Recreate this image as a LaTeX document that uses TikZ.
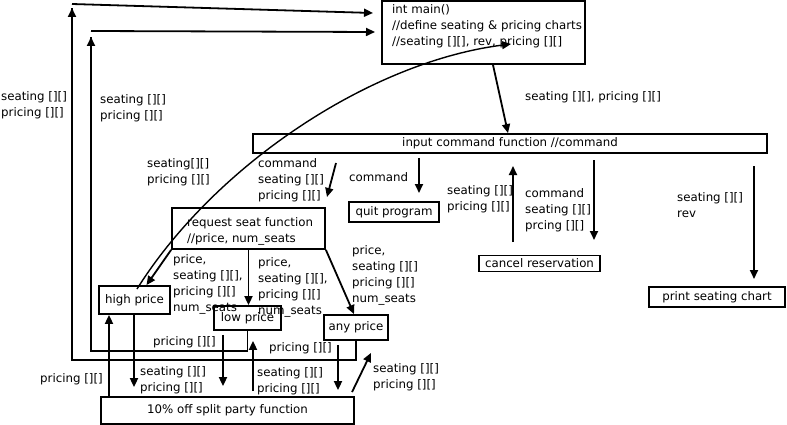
\documentclass[tikz,border=0pt]{standalone}
\usepackage{fontspec}
\setmainfont{DejaVu Sans}
\usetikzlibrary{arrows.meta}
\tikzset{
  every picture/.style={x=1pt,y=-1pt},
  box/.style={draw,line width=1.8pt,inner sep=0pt,font={\fontsize{11.8}{16}\selectfont}},
  lbl/.style={anchor=base west,inner sep=0pt,align=left,font={\fontsize{11.8}{16}\selectfont}},
  arr/.style={line width=1.8pt,-{Triangle[length=9pt,width=8pt]}},
  ln/.style={line width=1.8pt}
}
\begin{document}
\begin{tikzpicture}
\useasboundingbox (0,0) rectangle (787,425);
% boxes
\node[box,minimum width=203pt,minimum height=63pt] (main) at (483.5,32.5) {};
\node[box,minimum width=514pt,minimum height=19pt] (input) at (510,143.5) {input command function //command};
\node[box,minimum width=153pt,minimum height=41pt] (request) at (248.5,228.5) {};
\node[box,minimum width=90pt,minimum height=20pt] (quit) at (394,212) {quit program};
\node[box,minimum width=121pt,minimum height=16pt] (cancel) at (539.5,263.5) {cancel reservation};
\node[box,minimum width=136pt,minimum height=20pt] (print) at (717,297) {print seating chart};
\node[box,minimum width=71pt,minimum height=28pt] (high) at (134.5,300) {high price};
\node[box,minimum width=67pt,minimum height=24pt] (low) at (247.5,318) {low price};
\node[box,minimum width=64pt,minimum height=25pt] (any) at (356,327.5) {any price};
\node[box,minimum width=253pt,minimum height=27pt] (off) at (227.5,410.5) {10\% off split party function};
% box texts (base = last line)
\node[lbl] (maintext) at (392,46) {int main()\\//define seating \& pricing charts\\//seating [][], rev, pricing [][]};
\node[lbl] (reqtext) at (187,242) {request seat function\\//price, num\_seats};
% labels
\node[lbl] (l1) at (1,117) {seating [][]\\pricing [][]};
\node[lbl] (l2) at (100,120) {seating [][]\\pricing [][]};
\node[lbl] (l3) at (147,183) {seating[][]\\pricing [][]};
\node[lbl] (l4) at (525,101) {seating [][], pricing [][]};
\node[lbl] (l5) at (258,199) {command\\seating [][]\\pricing [][]};
\node[lbl] (l6) at (349,181) {command};
\node[lbl] (l7) at (447,210) {seating [][]\\pricing [][]};
\node[lbl] (l8) at (525,229) {command\\seating [][]\\prcing [][]};
\node[lbl] (l9) at (677,217) {seating [][]\\rev};
\node[lbl] (l10) at (173,311) {price,\\seating [][],\\pricing [][]\\num\_seats};
\node[lbl] (l11) at (258,314) {price,\\seating [][],\\pricing [][]\\num\_seats};
\node[lbl] (l12) at (352,302) {price,\\seating [][]\\pricing [][]\\num\_seats};
\node[lbl] (l13) at (140,391) {seating [][]\\pricing [][]};
\node[lbl] (l14) at (40,382) {pricing [][]};
\node[lbl] (l15) at (153,345) {pricing [][]};
\node[lbl] (l16) at (257,392) {seating [][]\\pricing [][]};
\node[lbl] (l17) at (269,351) {pricing [][]};
\node[lbl] (l18) at (373,388) {seating [][]\\pricing [][]};
% free connector ends
\coordinate (a2s) at (336,163);
\coordinate (a2e) at (327,197);
\coordinate (a3s) at (419,158);
\coordinate (a3e) at (419,193);
\coordinate (a4s) at (513,242);
\coordinate (a4e) at (513,166);
\coordinate (a5s) at (594,160);
\coordinate (a5e) at (594,240);
\coordinate (a6s) at (754,166);
\coordinate (a6e) at (754,279);
\coordinate (t1) at (91,31);
\coordinate (t1e) at (375,32);
\coordinate (t2) at (72,4);
\coordinate (t2e) at (373,13);
\coordinate (cs) at (137,289);
\coordinate (ce) at (511,44);
% connectors
\draw[arr] ([xshift=9.5pt]main.south) -- ([xshift=-2pt]input.north);
\draw[arr] (a2s) -- (a2e);
\draw[arr] (a3s) -- (a3e);
\draw[arr] (a4s) -- (a4e);
\draw[arr] (a5s) -- (a5e);
\draw[arr] (a6s) -- (a6e);
\draw[arr] (request.south) -- (request.south |- low.north);
\draw[arr] (request.south west) -- ([xshift=12pt]high.north);
\draw[arr] (request.south east) -- ([xshift=-2pt]any.north);
\draw[arr,shorten >=9pt] ([xshift=-0.5pt]high.south) -- ([xshift=-0.5pt]high.south |- off.north);
\draw[arr] ([xshift=-118.5pt]off.north) -- ([xshift=-25.5pt]high.south);
\draw[arr] ([xshift=-24.5pt,yshift=-4pt]low.south) -- ([xshift=-4.5pt,yshift=10pt]off.north);
\draw[arr] ([xshift=25.5pt,yshift=5pt]off.north) -- ([xshift=5.5pt,yshift=-10pt]low.south);
\draw[arr] ([xshift=-18pt,yshift=-4pt]any.south) -- ([xshift=110.5pt,yshift=6pt]off.north);
\draw[arr] ([xshift=124.5pt,yshift=4pt]off.north) -- ([xshift=15pt,yshift=-12pt]any.south);
\draw[ln] (low.south) -- ++(0,20) -| (91,37);
\draw[arr] (91,40) -- (91,37);
\draw[arr] (t1) -- (t1e);
\draw[ln] (any.south) -- ++(0,19) -| (72,8);
\draw[arr] (72,12) -- (72,8);
\draw[arr] (t2) -- (t2e);
\draw[arr,line width=1.4pt] (cs) .. controls (215,165) and (370,62) .. (ce);
\end{tikzpicture}
\end{document}
